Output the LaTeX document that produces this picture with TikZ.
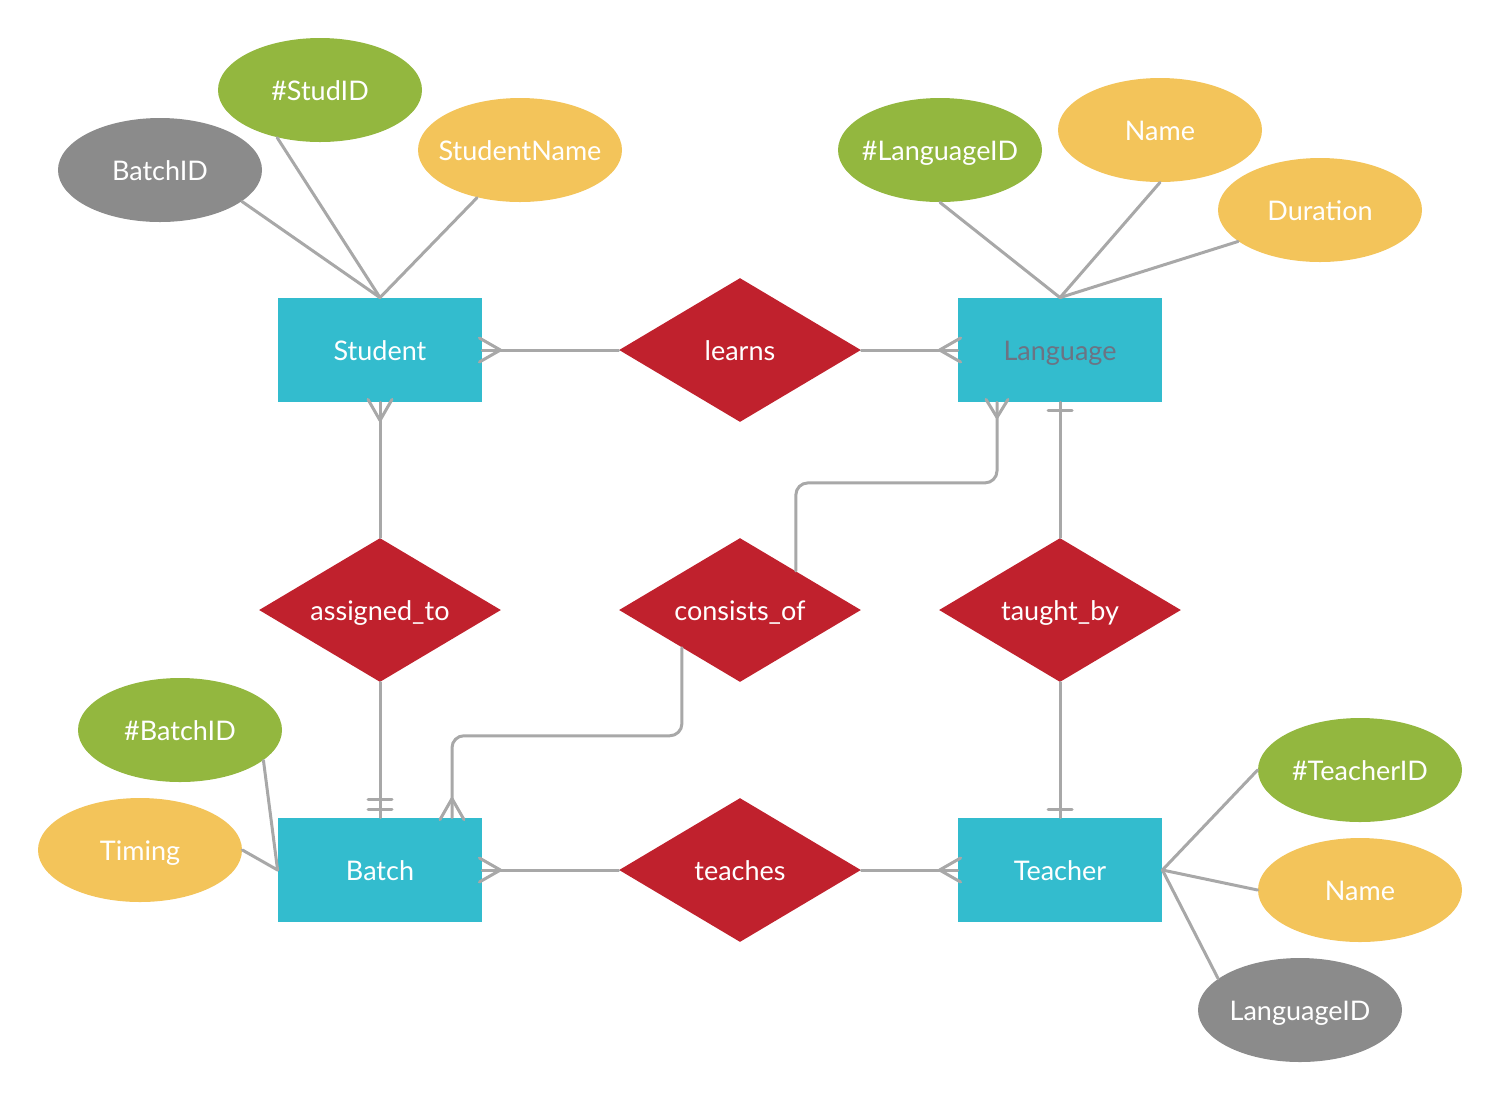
\documentclass[tikz,border=0pt]{standalone}
\usepackage{fontspec}
\setmainfont{Lato}
\usetikzlibrary{shapes.geometric,calc}

\definecolor{entc}{HTML}{33BCCE}
\definecolor{relc}{HTML}{C0212D}
\definecolor{keyc}{HTML}{93B73F}
\definecolor{attc}{HTML}{F3C45A}
\definecolor{fkc}{HTML}{8B8B8B}
\definecolor{linec}{HTML}{A8A8A8}
\definecolor{dimtext}{HTML}{6C7383}

\tikzset{
  every node/.style={text height=10pt, text depth=0pt},
  entity/.style={rectangle, fill=entc, minimum width=102pt, minimum height=52pt,
    inner sep=0pt, text=white},
  rel/.style={diamond, aspect=1.67, fill=relc, minimum width=121pt, minimum height=72pt,
    inner sep=0pt, text=white},
  attr/.style={ellipse, minimum width=102pt, minimum height=52pt, inner xsep=-14pt,
    inner ysep=0pt, text=white},
  keyattr/.style={attr, fill=keyc},
  plainattr/.style={attr, fill=attc},
  fkattr/.style={attr, fill=fkc},
  conn/.style={draw=linec, line width=1.5pt, line cap=round, line join=round},
}

\begin{document}
\begin{tikzpicture}[x=0.5pt, y=-0.5pt, font=\fontsize{13.5}{16}\selectfont]
\useasboundingbox (0,0) rectangle (1500,1100);

% entities
\node[entity] (stu)  at (380,350)  {Student};
\node[entity, text=dimtext] (lang) at (1060,350) {Language};
\node[entity] (bat)  at (380,870)  {Batch};
\node[entity] (tea)  at (1060,870) {Teacher};

% relationships
\node[rel] (learns) at (740,350)  {learns};
\node[rel] (asg)    at (380,610)  {assigned\_to};
\node[rel] (cons)   at (740,610)  {consists\_of};
\node[rel] (taught) at (1060,610) {taught\_by};
\node[rel] (teach)  at (740,870)  {teaches};

% attributes
\node[fkattr]    (sbid)  at (160,170)  {BatchID};
\node[keyattr]   (sid)   at (320,90)   {\#StudID};
\node[plainattr] (sname) at (520,150)  {StudentName};
\node[keyattr]   (lid)   at (940,150)  {\#LanguageID};
\node[plainattr] (lname) at (1160,130) {Name};
\node[plainattr] (ldur)  at (1320,210) {Duration};
\node[keyattr]   (bid)   at (180,730)  {\#BatchID};
\node[plainattr] (btim)  at (140,850)  {Timing};
\node[keyattr]   (tid)   at (1360,770) {\#TeacherID};
\node[plainattr] (tname) at (1360,890) {Name};
\node[fkattr]    (tlid)  at (1300,1010) {LanguageID};

% attribute links
\draw[conn] (sbid.339) -- (stu.north);
\draw[conn] (sid.228) -- (stu.north);
\draw[conn] (sname.228) -- (stu.north);
\draw[conn] (lid.south) -- (lang.north);
\draw[conn] (lname.south) -- (lang.north);
\draw[conn] (ldur.201) -- (lang.north);
\draw[conn] (bid.340) -- (bat.west);
\draw[conn] (btim.east) -- (bat.west);
\draw[conn] (tid.west) -- (tea.east);
\draw[conn] (tname.west) -- (tea.east);
\draw[conn] (tlid.159) -- (tea.east);

% Student -- learns -- Language
\draw[conn] (stu.east) -- (learns.west);
\draw[conn] ($(stu.east)+(-3,-12)$) -- ($(stu.east)+(18,0)$) -- ($(stu.east)+(-3,12)$);
\draw[conn] (learns.east) -- (lang.west);
\draw[conn] ($(lang.west)+(3,-12)$) -- ($(lang.west)+(-18,0)$) -- ($(lang.west)+(3,12)$);

% Student -- assigned_to -- Batch
\draw[conn] (stu.south) -- (asg.north);
\draw[conn] ($(stu.south)+(-12,-3)$) -- ($(stu.south)+(0,18)$) -- ($(stu.south)+(12,-3)$);
\draw[conn] (asg.south) -- (bat.north);
\draw[conn] ($(bat.north)+(-12,-18)$) -- ($(bat.north)+(12,-18)$);
\draw[conn] ($(bat.north)+(-12,-8)$) -- ($(bat.north)+(12,-8)$);

% consists_of -- Language, consists_of -- Batch
\coordinate (langfoot) at ($(lang.south)+(-63,0)$);
\coordinate (batfoot) at ($(bat.north)+(72,0)$);
\draw[conn, rounded corners=6pt] (cons.35) -- ++(0,-88) -| (langfoot);
\draw[conn] ($(langfoot)+(-11,-3)$) -- ($(langfoot)+(0,15)$) -- ($(langfoot)+(11,-3)$);
\draw[conn, rounded corners=6pt] (cons.213) -- ++(0,88) -| (batfoot);
\draw[conn] ($(batfoot)+(-12,2)$) -- ($(batfoot)+(0,-19)$) -- ($(batfoot)+(12,2)$);

% Language -- taught_by -- Teacher
\draw[conn] (lang.south) -- (taught.north);
\draw[conn] ($(lang.south)+(-12,8)$) -- ($(lang.south)+(12,8)$);
\draw[conn] (taught.south) -- (tea.north);
\draw[conn] ($(tea.north)+(-12,-8)$) -- ($(tea.north)+(12,-8)$);

% Batch -- teaches -- Teacher
\draw[conn] (bat.east) -- (teach.west);
\draw[conn] ($(bat.east)+(-3,-12)$) -- ($(bat.east)+(18,0)$) -- ($(bat.east)+(-3,12)$);
\draw[conn] (teach.east) -- (tea.west);
\draw[conn] ($(tea.west)+(3,-12)$) -- ($(tea.west)+(-18,0)$) -- ($(tea.west)+(3,12)$);
\end{tikzpicture}
\end{document}
